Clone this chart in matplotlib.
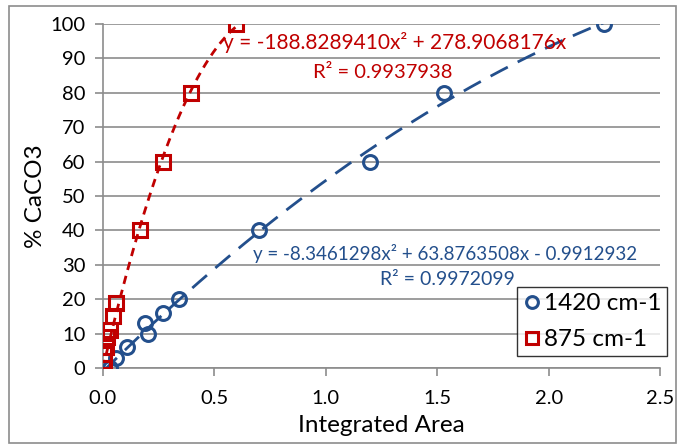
import numpy as np
import matplotlib.pyplot as plt
from matplotlib.patches import Rectangle

plt.rcParams["font.family"] = ["Lato", "DejaVu Sans"]

# 数据
x_1420 = [0.03, 0.06, 0.11, 0.19, 0.20, 0.27, 0.34, 0.70, 1.20, 1.53, 2.25]
y_1420 = [0, 3, 6, 13, 10, 16, 20, 40, 60, 80, 100]
x_875 = [0.0, 0.004, 0.006, 0.012, 0.02, 0.03, 0.045, 0.058, 0.166, 0.27, 0.395, 0.597]
y_875 = [0, 2, 4, 6, 9, 11, 15, 19, 40, 60, 80, 100]

coef_1420 = [-8.3461298, 63.8763508, -0.9912932]
coef_875 = [-188.8289410, 278.9068176, 0.0]

blue = "#234F8C"
red = "#C00000"
grid_gray = "#8C8C8C"

fig = plt.figure(figsize=(6.82, 4.45), dpi=100)
fig.patches.append(Rectangle((0.013, 0.005), 0.978, 0.982, transform=fig.transFigure,
                             fill=False, edgecolor="#8C8C8C", linewidth=1.2))
ax = fig.add_axes([0.151, 0.173, 0.817, 0.773])

# 趋势线
xf = np.linspace(0, max(x_1420), 200)
ax.plot(xf, np.polyval(coef_1420, xf), color=blue, linewidth=2, dashes=(7, 4), zorder=2)
xf2 = np.linspace(0, max(x_875), 200)
ax.plot(xf2, np.polyval(coef_875, xf2), color=red, linewidth=2, dashes=(3, 2.2), zorder=2)

# 数据点
ax.plot(x_1420, y_1420, linestyle="none", marker="o", markersize=10, markerfacecolor="none",
        markeredgecolor=blue, markeredgewidth=2.2, label="1420 cm-1", zorder=3)
ax.plot(x_875, y_875, linestyle="none", marker="s", markersize=9.5, markerfacecolor="none",
        markeredgecolor=red, markeredgewidth=2.2, label="875 cm-1", zorder=3)

# 方程文本
ax.text(0.539, 94.5, "y = -188.8289410x² + 278.9068176x", color=red, fontsize=15,
        ha="left", va="center")
ax.text(0.943, 85.8, "R² = 0.9937938", color=red, fontsize=14.5, ha="left", va="center")
ax.text(0.673, 33.4, "y = -8.3461298x² + 63.8763508x - 0.9912932", color=blue, fontsize=13.5,
        ha="left", va="center")
ax.text(1.243, 25.6, "R² = 0.9972099", color=blue, fontsize=14, ha="left", va="center")

ax.set_xlim(0, 2.5)
ax.set_ylim(0, 100)
ax.set_xticks(np.arange(0, 2.51, 0.5))
ax.set_xticklabels([f"{v:.1f}" for v in np.arange(0, 2.51, 0.5)])
ax.set_yticks(np.arange(0, 101, 10))
ax.yaxis.grid(True, color=grid_gray, linewidth=1.2)
ax.set_axisbelow(True)
for s in ["top", "right"]:
    ax.spines[s].set_visible(False)
for s in ["left", "bottom"]:
    ax.spines[s].set_color(grid_gray)
    ax.spines[s].set_linewidth(1.2)
ax.tick_params(axis="both", colors=grid_gray, labelcolor="black", labelsize=14.5,
               length=5.5, width=1.2, direction="out")
ax.tick_params(axis="x", pad=10)
ax.tick_params(axis="y", pad=7)
ax.set_xlabel("Integrated Area", fontsize=17.5, labelpad=6)
ax.set_ylabel("% CaCO3", fontsize=17.5, labelpad=3)

leg = ax.legend(loc="lower right", bbox_to_anchor=(1.0126, 0.035), borderaxespad=0,
                fontsize=17.5, frameon=True, fancybox=False, edgecolor="black",
                handletextpad=0.15, borderpad=0.24, handlelength=0.7, labelspacing=0.62,
                markerscale=0.85)
leg.get_frame().set_linewidth(1.0)

plt.savefig("out.png", dpi=100)
plt.close()
